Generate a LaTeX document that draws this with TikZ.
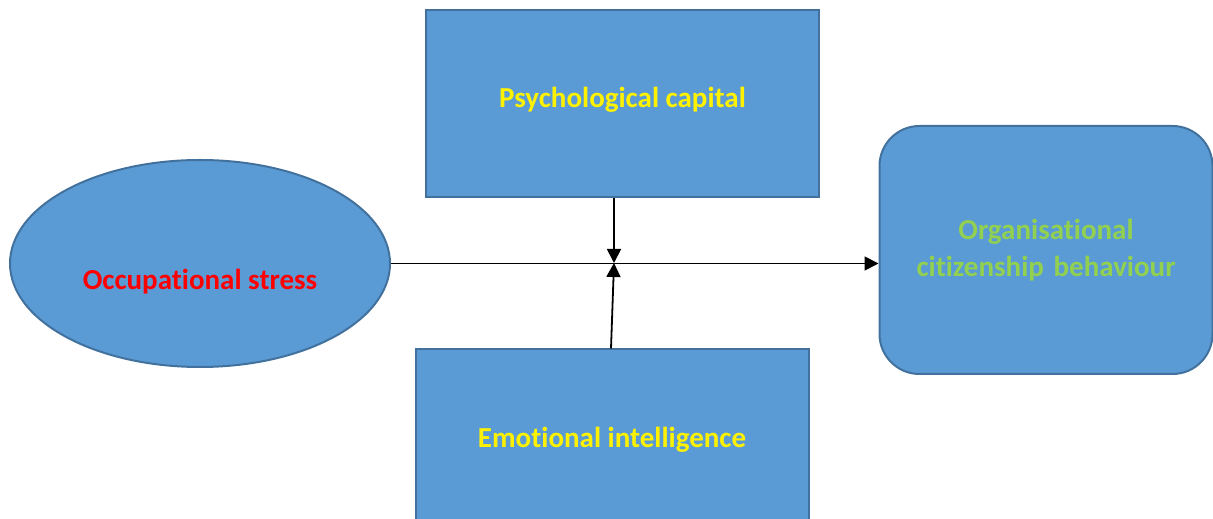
\documentclass[tikz,border=0pt]{standalone}
\usepackage{xcolor}
\usepackage{fontspec}
\setmainfont{Carlito}[RawFeature=-liga]
\usepackage{tikz}
\usetikzlibrary{shapes.geometric,arrows.meta}
\definecolor{boxblue}{HTML}{5B9BD5}
\definecolor{boxedge}{HTML}{41719C}
\definecolor{ocbgreen}{HTML}{92D050}
\tikzstyle{oval} = [ellipse, minimum width=380pt, minimum height=207pt, inner sep=0pt, draw=boxedge, fill=boxblue, line width=2pt, text=red]
\tikzstyle{moderator} = [rectangle, minimum width=393pt, minimum height=187pt, inner sep=0pt, draw=boxedge, fill=boxblue, line width=2pt, text=yellow]
\tikzstyle{outcome} = [rectangle, rounded corners=40pt, minimum width=333pt, minimum height=248pt, text width=320pt, align=center, draw=boxedge, fill=boxblue, line width=2pt, text=ocbgreen]
\tikzstyle{arrow} = [line width=1.8pt,-{Triangle[length=14pt,width=14pt]}]

\begin{document}
\begin{tikzpicture}[x=1pt,y=1pt,every node/.style={font=\fontsize{29}{37}\selectfont\bfseries}]
	\useasboundingbox (0,0) rectangle (1213,519);

	\node (stress) [oval] at (200,255.5) {\raisebox{-26pt}[0pt][0pt]{Occupational stress}};
	\node (psycap) [moderator] at (622.5,415.5) {\raisebox{-4.5pt}[0pt][0pt]{Psychological capital}};
	\node (emotion) [moderator] at (612,76) {\raisebox{-5pt}[0pt][0pt]{Emotional intelligence}};
	\node (ocb) [outcome] at (1046,269) {Organisational\\ citizenship behaviour};
	\coordinate (meet) at (614,256);

	\draw [arrow] (stress.east) -- (stress.east -| ocb.west);
	\draw [arrow] (psycap.south -| meet) -- (meet);
	\draw [arrow] (emotion.north -| 611,0) -- (meet);

\end{tikzpicture}
\end{document}
